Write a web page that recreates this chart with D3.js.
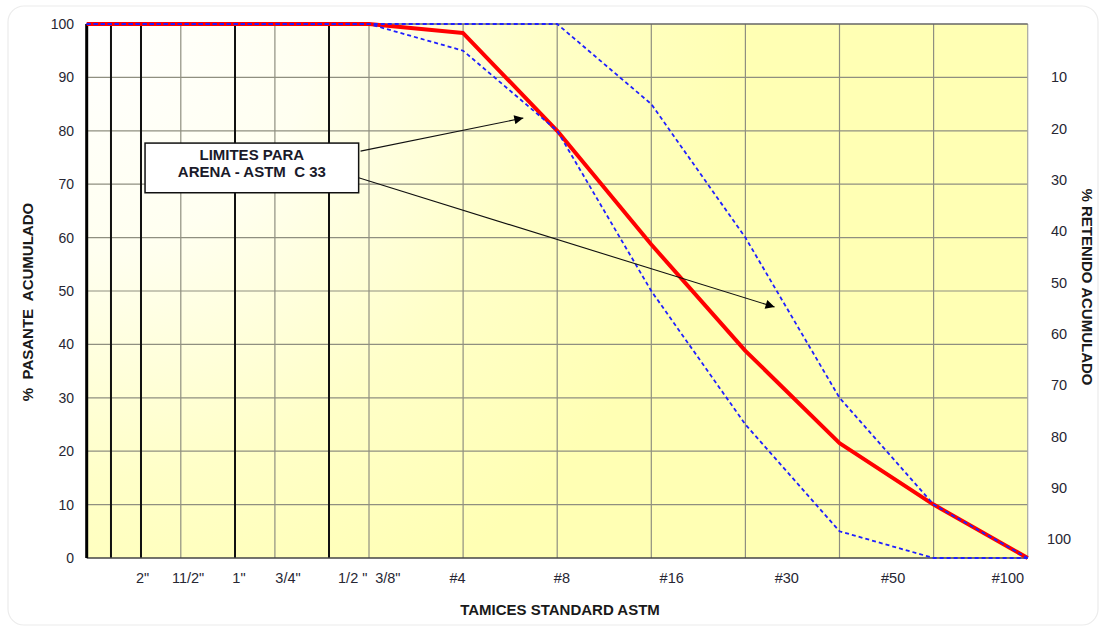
<!DOCTYPE html>
<html>
<head>
<meta charset="utf-8">
<script src="https://cdn.jsdelivr.net/npm/d3@7"></script>
<style>
  html, body { margin: 0; padding: 0; background: #ffffff; }
  svg { display: block; font-family: "Liberation Sans", Arial, sans-serif; }
  text { white-space: pre; }
</style>
</head>
<body>
<svg id="chart" width="1105" height="630"></svg>
<script>
// ---- data ----
// sieve positions on the chart's (spaced) abscissa, in grid units
const pointPos   = [0, 3, 4, 5, 6, 7, 8, 9, 10];
const measured   = [100, 100, 98.3, 80, 58.7, 38.8, 21.5, 10, 0];
const upperLimit = [100, 100, 100, 100, 85, 60, 30, 10, 0];
const lowerLimit = [100, 100, 95, 80, 50, 25, 5, 0, 0];

const thinGrid  = [1, 2, 3, 4, 5, 6, 7, 8, 9, 10];
const thickGrid = [0.258, 0.577, 1.576, 2.575];

const xLabels   = ['2"', '11/2"', '1"', '3/4"', '1/2 "', '3/8"', '#4', '#8', '#16', '#30', '#50', '#100'];
const xLabelPos = [0.594, 1.077, 1.618, 2.139, 2.827, 3.2, 3.94, 5.05, 6.217, 7.44, 8.57, 9.79];

const yTicks      = [0, 10, 20, 30, 40, 50, 60, 70, 80, 90, 100];
const yRightTicks = [10, 20, 30, 40, 50, 60, 70, 80, 90, 100];

const annotationLines = ["LIMITES PARA", "ARENA - ASTM  C 33"];
const annotationBox = {x0: 0.62, x1: 2.89, y0: 77.7, y1: 68.4};
const arrowFrom = [[2.91, 76.2], [2.89, 71.2]];
const arrowTo   = [[4.64, 82.4], [7.31, 47.0]];

// ---- layout ----
const svg = d3.select("#chart");
const pL = 86.7, pR = 1027.7, pT = 24, pB = 558;
const x = d3.scaleLinear().domain([0, 10]).range([pL, pR]);
const y = d3.scaleLinear().domain([0, 100]).range([pB, pT]);
const yR = d3.scaleLinear().domain([0, 100]).range([25.7, 539]);

const defs = svg.append("defs");
const grad = defs.append("radialGradient")
  .attr("id", "bg").attr("gradientUnits", "userSpaceOnUse")
  .attr("cx", pL).attr("cy", pT).attr("r", 650);
grad.append("stop").attr("offset", 0).attr("stop-color", "#ffffff");
grad.append("stop").attr("offset", 0.35).attr("stop-color", "#fffff0");
grad.append("stop").attr("offset", 0.7).attr("stop-color", "#ffffc8");
grad.append("stop").attr("offset", 1).attr("stop-color", "#ffffb4");

defs.append("marker").attr("id", "arrow")
  .attr("viewBox", "0 0 10 10").attr("refX", 10).attr("refY", 5)
  .attr("markerWidth", 12).attr("markerHeight", 9).attr("markerUnits", "userSpaceOnUse")
  .attr("orient", "auto")
  .append("path").attr("d", "M0,0 L10,5 L0,10 z").attr("fill", "#000");

// outer frame
svg.append("rect").attr("x", 8).attr("y", 6).attr("width", 1090).attr("height", 619)
  .attr("rx", 16).attr("fill", "#ffffff").attr("stroke", "#ececec").attr("stroke-width", 1.2);

// plot background
svg.append("rect").attr("x", pL).attr("y", pT).attr("width", pR - pL).attr("height", pB - pT)
  .attr("fill", "url(#bg)");

// horizontal grid
svg.append("g").selectAll("line").data(yTicks.filter(d => d > 0 && d < 100)).join("line")
  .attr("x1", pL).attr("x2", pR).attr("y1", d => y(d)).attr("y2", d => y(d))
  .attr("stroke", "#8f8f80").attr("stroke-width", 1.2);

// thin vertical grid
svg.append("g").selectAll("line").data(thinGrid).join("line")
  .attr("x1", d => x(d)).attr("x2", d => x(d)).attr("y1", pT).attr("y2", pB)
  .attr("stroke", d => d === 10 ? "#a8a8a0" : "#8f8f80").attr("stroke-width", 1.2);

// thick vertical grid
svg.append("g").selectAll("line").data(thickGrid).join("line")
  .attr("x1", d => x(d)).attr("x2", d => x(d)).attr("y1", pT).attr("y2", pB)
  .attr("stroke", "#111").attr("stroke-width", 2);

// borders
svg.append("line").attr("x1", pL).attr("x2", pR).attr("y1", pT).attr("y2", pT)
  .attr("stroke", "#666").attr("stroke-width", 1.5);
svg.append("line").attr("x1", pL).attr("x2", pR).attr("y1", pB).attr("y2", pB)
  .attr("stroke", "#444").attr("stroke-width", 1.6);
svg.append("line").attr("x1", pL).attr("x2", pL).attr("y1", pT).attr("y2", pB)
  .attr("stroke", "#000").attr("stroke-width", 3);

// lines
const line = d3.line().x((d, i) => x(pointPos[i])).y(d => y(d));
svg.append("path").datum(measured).attr("d", line)
  .attr("fill", "none").attr("stroke", "#ff0000").attr("stroke-width", 4).attr("stroke-linejoin", "round");
[upperLimit, lowerLimit].forEach(s => {
  svg.append("path").datum(s).attr("d", line)
    .attr("fill", "none").attr("stroke", "#1f1fff").attr("stroke-width", 1.8)
    .attr("stroke-dasharray", "4,3");
});

// left axis labels
svg.append("g").selectAll("text").data(yTicks).join("text")
  .attr("x", 74).attr("y", d => y(d)).attr("dy", "0.36em")
  .attr("text-anchor", "end").attr("font-size", 14).attr("fill", "#262633")
  .text(d => d);

// right axis labels
svg.append("g").selectAll("text").data(yRightTicks).join("text")
  .attr("x", 1059).attr("y", d => yR(d)).attr("dy", "0.36em")
  .attr("text-anchor", "middle").attr("font-size", 14.5).attr("fill", "#262633")
  .text(d => d);

// x labels
svg.append("g").selectAll("text").data(xLabels).join("text")
  .attr("x", (d, i) => x(xLabelPos[i])).attr("y", 583)
  .attr("text-anchor", "middle").attr("font-size", 14.5).attr("fill", "#262633")
  .text(d => d);

// axis titles
svg.append("text").attr("x", 560).attr("y", 615).attr("text-anchor", "middle")
  .attr("font-size", 15).attr("font-weight", "bold").attr("fill", "#1a1a1a")
  .text("TAMICES STANDARD ASTM");
svg.append("text").attr("transform", "translate(33,302) rotate(-90)").attr("text-anchor", "middle")
  .attr("font-size", 15).attr("font-weight", "bold").attr("fill", "#1a1a1a")
  .text("%  PASANTE  ACUMULADO");
svg.append("text").attr("transform", "translate(1082,287) rotate(90)").attr("text-anchor", "middle")
  .attr("font-size", 15).attr("font-weight", "bold").attr("fill", "#1a1a1a")
  .text("% RETENIDO ACUMULADO");

// arrows
svg.append("g").selectAll("line").data(arrowFrom).join("line")
  .attr("x1", d => x(d[0])).attr("y1", d => y(d[1]))
  .attr("x2", (d, i) => x(arrowTo[i][0])).attr("y2", (d, i) => y(arrowTo[i][1]))
  .attr("stroke", "#111").attr("stroke-width", 1.1).attr("marker-end", "url(#arrow)");

// annotation box
svg.append("rect")
  .attr("x", x(annotationBox.x0)).attr("y", y(annotationBox.y0))
  .attr("width", x(annotationBox.x1) - x(annotationBox.x0))
  .attr("height", y(annotationBox.y1) - y(annotationBox.y0))
  .attr("fill", "#ffffff").attr("stroke", "#111").attr("stroke-width", 1.5);
svg.append("g").selectAll("text").data(annotationLines).join("text")
  .attr("x", (x(annotationBox.x0) + x(annotationBox.x1)) / 2)
  .attr("y", (d, i) => y(annotationBox.y0) + 16.5 + i * 17)
  .attr("text-anchor", "middle").attr("font-size", 15).attr("font-weight", "bold").attr("fill", "#1a1a2a")
  .text(d => d);
</script>
</body>
</html>
